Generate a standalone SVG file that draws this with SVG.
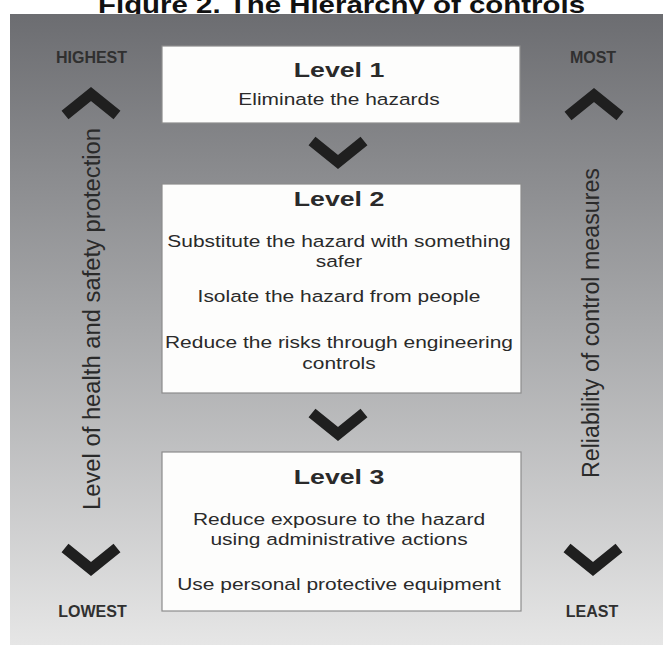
<svg xmlns="http://www.w3.org/2000/svg" width="663" height="646" viewBox="0 0 663 646">
  <defs>
    <linearGradient id="bg" x1="0" y1="0" x2="0" y2="1">
      <stop offset="0" stop-color="#6c6d71"/>
      <stop offset="0.5" stop-color="#a8a9ab"/>
      <stop offset="1" stop-color="#e6e6e6"/>
    </linearGradient>
  </defs>
  <style>
    .box { fill: #fdfdfc; stroke: #8c8c8c; stroke-width: 1.2; }
    .t { font-family: "Liberation Sans", Arial, sans-serif; fill: #2a2a2a; text-anchor: middle; }
    .body { font-size: 16.5px; }
    .head { font-size: 21px; font-weight: bold; }
    .side { font-size: 16px; font-weight: bold; fill: #303030; }
    .vert { font-size: 23.5px; fill: #2a2a2a; }
    .chev { fill: none; stroke: #1f1f1f; stroke-width: 11; stroke-linejoin: miter; stroke-miterlimit: 10; }
    .title { font-size: 23px; font-weight: bold; fill: #111; }
  </style>

  <rect width="663" height="646" fill="#ffffff"/>
  <text class="t title" x="341.5" y="13" textLength="487" lengthAdjust="spacingAndGlyphs">Figure 2. The Hierarchy of controls</text>
  <rect id="panel" x="10" y="14" width="653" height="631" fill="url(#bg)"/>

  <g id="left-axis">
    <text class="t side" x="91.5" y="63">HIGHEST</text>
    <polyline class="chev" points="65,115 91,94 117,115"/>
    <text class="t vert" transform="translate(100,319) rotate(-90)" x="0" y="0" textLength="382" lengthAdjust="spacingAndGlyphs">Level of health and safety protection</text>
    <polyline class="chev" points="65,548 91,569 117,548"/>
    <text class="t side" x="92.5" y="617">LOWEST</text>
  </g>

  <g id="right-axis">
    <text class="t side" x="593" y="63">MOST</text>
    <polyline class="chev" points="568,116 594,95 620,116"/>
    <text class="t vert" transform="translate(599,323) rotate(-90)" x="0" y="0" textLength="310" lengthAdjust="spacingAndGlyphs">Reliability of control measures</text>
    <polyline class="chev" points="567,548 593,569 619,548"/>
    <text class="t side" x="592" y="617">LEAST</text>
  </g>

  <g id="level1">
    <rect class="box" x="162" y="46" width="358" height="77"/>
    <g transform="translate(339 0) scale(1.27 1)">
      <text class="t head" x="0" y="77">Level 1</text>
      <text class="t body" x="0" y="105">Eliminate the hazards</text>
    </g>
  </g>

  <g id="level2">
    <rect class="box" x="162" y="184" width="359" height="209"/>
    <g transform="translate(339 0) scale(1.27 1)">
      <text class="t head" x="0" y="206">Level 2</text>
      <text class="t body" x="0" y="247">Substitute the hazard with something</text>
      <text class="t body" x="0" y="267">safer</text>
      <text class="t body" x="0" y="302">Isolate the hazard from people</text>
      <text class="t body" x="0" y="348">Reduce the risks through engineering</text>
      <text class="t body" x="0" y="369">controls</text>
    </g>
  </g>

  <g id="level3">
    <rect class="box" x="162" y="452" width="359" height="159"/>
    <g transform="translate(339 0) scale(1.27 1)">
      <text class="t head" x="0" y="484">Level 3</text>
      <text class="t body" x="0" y="525">Reduce exposure to the hazard</text>
      <text class="t body" x="0" y="545">using administrative actions</text>
      <text class="t body" x="0" y="590">Use personal protective equipment</text>
    </g>
  </g>

  <g id="connectors">
    <polyline class="chev" points="312,141 338,162 364,141"/>
    <polyline class="chev" points="312,413 338,434 364,413"/>
  </g>
</svg>
